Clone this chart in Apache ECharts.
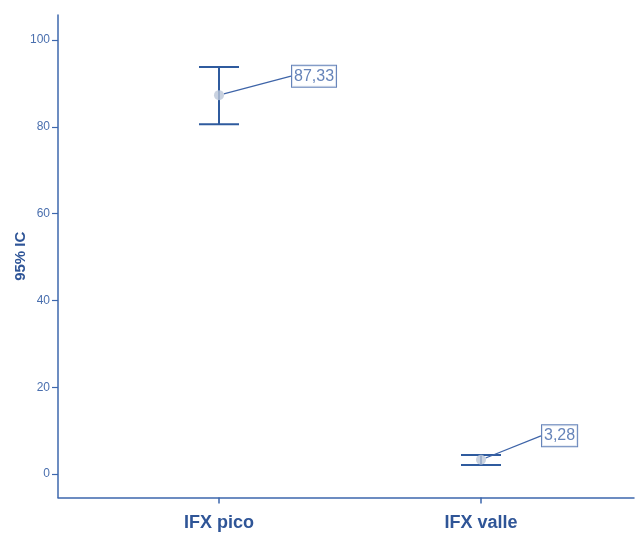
<!DOCTYPE html>
<html><head><meta charset="utf-8">
<script src="https://cdn.jsdelivr.net/npm/echarts@6/dist/echarts.min.js"></script>
<style>html,body{margin:0;padding:0;background:#fff}#c{width:636px;height:535px}</style>
</head><body><div id="c"></div>
<script>
var categories = ['IFX pico', 'IFX valle'];
var means = [87.33, 3.28];
var lower = [80.6, 2.1];
var upper = [93.8, 4.4];
var meanLabels = ['87,33', '3,28'];
var yTicks = [0, 20, 40, 60, 80, 100];

var blue = '#2f5b9e';
var chart = echarts.init(document.getElementById('c'));
var ebData = categories.map(function (c, i) { return [i, lower[i], upper[i]]; });
var ptData = categories.map(function (c, i) { return [i, means[i]]; });
var labelShift = [[63, -19], [51, -24]];

chart.setOption({
  animation: false,
  grid: { left: 58, right: 2, top: 15, bottom: 37.5, containLabel: false, outerBoundsMode: 'none' },
  xAxis: {
    type: 'value', min: -0.6145, max: 1.584,
    splitLine: { show: false },
    axisLine: { show: true, onZero: false, lineStyle: { color: '#3d67ad', width: 1.5 } },
    axisTick: { show: true, customValues: [0, 1], length: 6, lineStyle: { color: '#3d67ad', width: 1.5 } },
    axisLabel: {
      customValues: [0, 1], margin: 17,
      formatter: function (v) { return categories[Math.round(v)]; },
      fontFamily: 'Liberation Sans', fontWeight: 'bold', fontSize: 18, color: '#2f5597'
    }
  },
  yAxis: {
    type: 'value', min: -5.4, max: 105.8,
    name: '95% IC', nameLocation: 'middle', nameGap: 30, nameRotate: 90, nameMoveOverlap: false,
    nameTextStyle: { fontFamily: 'Liberation Sans', fontWeight: 'bold', fontSize: 15, color: '#2f5597' },
    splitLine: { show: false },
    axisLine: { show: true, onZero: false, lineStyle: { color: '#3d67ad', width: 1.5 } },
    axisTick: { show: true, customValues: yTicks, length: 6, lineStyle: { color: '#3d67ad', width: 1.2 } },
    axisLabel: {
      customValues: yTicks, margin: 8,
      fontFamily: 'Liberation Sans', fontSize: 12, color: '#4a6fae'
    }
  },
  series: [
    {
      type: 'custom',
      data: ebData,
      renderItem: function (params, api) {
        var x = api.value(0);
        var lo = api.coord([x, api.value(1)]);
        var hi = api.coord([x, api.value(2)]);
        var hw = 20;
        var st = { stroke: blue, lineWidth: 2 };
        return {
          type: 'group',
          children: [
            { type: 'line', shape: { x1: lo[0], y1: lo[1], x2: hi[0], y2: hi[1] }, style: st },
            { type: 'line', shape: { x1: hi[0] - hw, y1: hi[1], x2: hi[0] + hw, y2: hi[1] }, style: st },
            { type: 'line', shape: { x1: lo[0] - hw, y1: lo[1], x2: lo[0] + hw, y2: lo[1] }, style: st }
          ]
        };
      },
      z: 2
    },
    {
      type: 'scatter',
      data: ptData,
      symbol: 'circle', symbolSize: 10,
      itemStyle: { color: '#bcc7d8' },
      z: 3,
      label: {
        show: true, position: 'right', distance: 5,
        formatter: function (p) { return meanLabels[p.dataIndex]; },
        fontFamily: 'Liberation Sans', fontSize: 16, color: '#3e64a8',
        backgroundColor: '#fff', borderColor: '#3e64a8', borderWidth: 1,
        padding: [2, 2, 1, 2], lineHeight: 18
      },
      labelLine: { show: true, lineStyle: { color: '#3e64a8', width: 1.2 } },
      labelLayout: function (p) {
        var s = labelShift[p.dataIndex];
        return { dx: s[0], dy: s[1] };
      }
    }
  ]
});
</script>
</body></html>
